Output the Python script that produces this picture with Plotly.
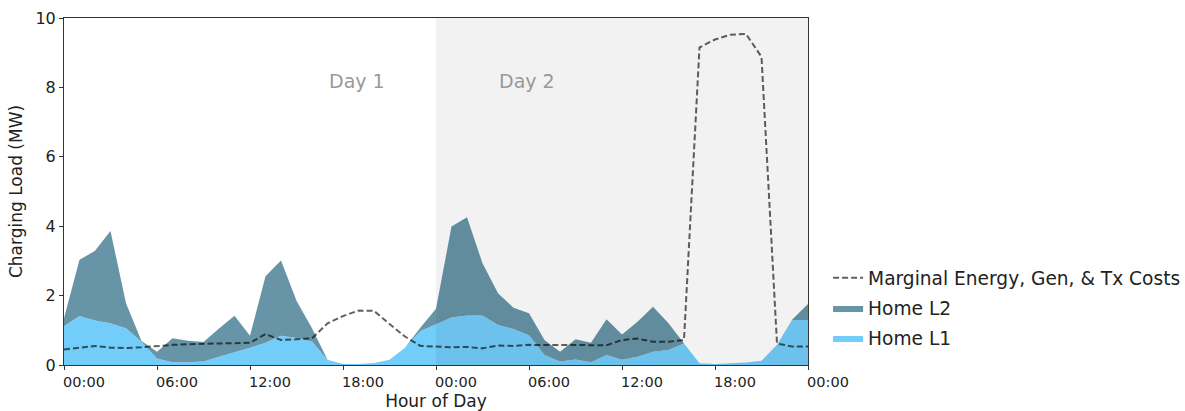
import plotly.graph_objects as go

hours = list(range(49))

home_l1 = [1.12, 1.41, 1.28, 1.20, 1.06, 0.67, 0.19, 0.08, 0.08, 0.10,
           0.24, 0.36, 0.50, 0.64, 0.84, 0.78, 0.68, 0.15, 0.03, 0.03,
           0.06, 0.15, 0.50, 0.98, 1.17, 1.37, 1.43, 1.43, 1.15, 1.04,
           0.86, 0.29, 0.10, 0.16, 0.08, 0.29, 0.15, 0.24, 0.38, 0.43,
           0.62, 0.05, 0.03, 0.04, 0.07, 0.12, 0.58, 1.30, 1.30]

home_l2 = [0.23, 1.62, 2.01, 2.66, 0.72, 0.02, 0.19, 0.69, 0.62, 0.56,
           0.81, 1.06, 0.34, 1.92, 2.17, 1.07, 0.38, 0.00, 0.00, 0.00,
           0.00, 0.00, 0.00, 0.10, 0.45, 2.62, 2.83, 1.50, 0.92, 0.61,
           0.63, 0.43, 0.28, 0.58, 0.56, 1.03, 0.73, 1.01, 1.30, 0.77,
           0.00, 0.00, 0.00, 0.00, 0.00, 0.00, 0.00, 0.02, 0.46]

marginal_cost = [0.45, 0.50, 0.55, 0.50, 0.49, 0.51, 0.55, 0.58, 0.60, 0.61,
                 0.62, 0.63, 0.64, 0.89, 0.72, 0.74, 0.77, 1.20, 1.41, 1.57,
                 1.56, 1.18, 0.82, 0.55, 0.53, 0.51, 0.52, 0.48, 0.56, 0.55,
                 0.58, 0.58, 0.57, 0.58, 0.58, 0.57, 0.72, 0.76, 0.67, 0.67,
                 0.72, 9.15, 9.38, 9.52, 9.54, 8.88, 0.62, 0.53, 0.53]

tick_vals = [0, 6, 12, 18, 24, 30, 36, 42, 48]
tick_text = ["00:00", "06:00", "12:00", "18:00", "00:00", "06:00", "12:00", "18:00", "00:00"]
y_ticks = [0, 2, 4, 6, 8, 10]

day_labels = ["Day 1", "Day 2"]
day_label_x = [18.9, 29.9]
day_label_y = [8.18, 8.18]

FONT = "DejaVu Sans"
C_L1 = "#73cdfa"
C_L2 = "#6794a7"

fig = go.Figure()
fig.add_trace(go.Scatter(x=hours, y=home_l1, name="Home L1", mode="lines",
                         stackgroup="one", line=dict(width=0, color=C_L1),
                         fillcolor=C_L1, legendrank=3, legendgroup="l1"))
fig.add_trace(go.Scatter(x=hours, y=home_l2, name="Home L2", mode="lines",
                         stackgroup="one", line=dict(width=0, color=C_L2),
                         fillcolor=C_L2, legendrank=2, legendgroup="l2"))
fig.add_trace(go.Scatter(x=hours, y=marginal_cost, name="Marginal Energy, Gen, & Tx Costs",
                         mode="lines", line=dict(color="rgba(0,0,0,0.62)", width=2, dash="6px,3px"),
                         legendrank=1, legendgroup="mc"))

fig.add_shape(type="rect", xref="x", yref="y", x0=24, x1=48, y0=0, y1=10,
              fillcolor="rgba(0,0,0,0.052)", line=dict(width=0), layer="above")

for t, x, y in zip(day_labels, day_label_x, day_label_y):
    fig.add_annotation(x=x, y=y, text=t, showarrow=False,
                       font=dict(family=FONT, size=19, color="#999999"))

fig.update_layout(
    width=1185, height=411,
    margin=dict(l=64, r=377, t=18, b=46, autoexpand=False),
    paper_bgcolor="white", plot_bgcolor="white",
    font=dict(family=FONT, color="#222222"),
    showlegend=True,
    legend=dict(x=1.027, y=0.305, xanchor="left", yanchor="top", traceorder="grouped",
                tracegroupgap=3,
                font=dict(family=FONT, size=18.6, color="#222222"),
                bgcolor="rgba(0,0,0,0)", itemwidth=30),
)
fig.update_xaxes(range=[0, 48], tickmode="array", tickvals=tick_vals, ticktext=tick_text,
                 ticks="outside", ticklen=4, tickcolor="#333", showgrid=False, zeroline=False,
                 showline=True, linecolor="#333", linewidth=1, mirror=True, automargin=False,
                 tickfont=dict(family=FONT, size=14.5, color="#222"), ticklabelshift=20,
                 title=dict(text="Hour of Day", font=dict(family=FONT, size=17, color="#222"), standoff=7))
fig.update_yaxes(range=[0, 10], tickmode="array", tickvals=y_ticks,
                 ticks="outside", ticklen=4, tickcolor="#333", showgrid=False, zeroline=False,
                 showline=True, linecolor="#333", linewidth=1, mirror=True, automargin=False,
                 tickfont=dict(family=FONT, size=16, color="#222"),
                 title=dict(text="Charging Load (MW)", font=dict(family=FONT, size=17, color="#222"), standoff=8))

fig.write_html("out.html")
